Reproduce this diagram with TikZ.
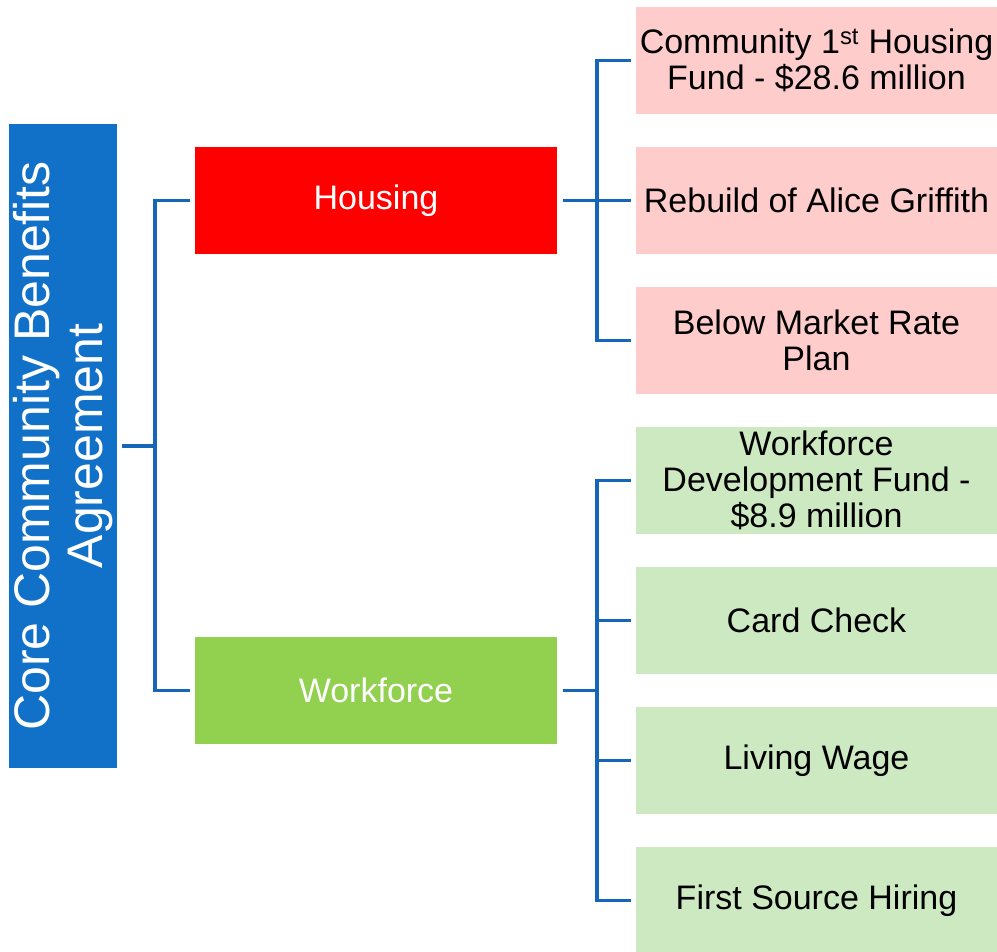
\documentclass[tikz,border=0pt]{standalone}
\usepackage{fontspec}
\setmainfont{Liberation Sans}
\definecolor{rootblue}{HTML}{1170C8}
\definecolor{linkblue}{HTML}{1565B8}
\definecolor{hred}{HTML}{FF0000}
\definecolor{wgreen}{HTML}{92D050}
\definecolor{lpink}{HTML}{FFCCCC}
\definecolor{lgreen}{HTML}{CDE9C2}
\begin{document}
\begin{tikzpicture}[x=1pt,y=-1pt,
  box/.style={rectangle,inner sep=0pt,outer sep=0pt,align=center,
    font=\fontsize{34}{36}\selectfont},
  midbox/.style={box,minimum width=362pt,minimum height=107pt,text=white},
  leafbox/.style={box,minimum width=361pt,minimum height=107pt,text=black},
  conn/.style={draw=linkblue,line width=3.5pt}]
\useasboundingbox (0,0) rectangle (997,952);
\node[rectangle,inner sep=0pt,fill=rootblue,minimum width=644pt,minimum height=108pt,
  rotate=90,text=white,align=center,font=\fontsize{50}{53}\selectfont]
  (root) at (63,446) {Core Community Benefits\\Agreement};
\node[midbox,fill=hred] (housing) at (376,200.5) {Housing};
\node[midbox,fill=wgreen] (workforce) at (376,690.5) {Workforce};
\node[leafbox,fill=lpink] (h1) at (816.5,60.5) {Community 1\textsuperscript{st} Housing\\Fund - \$28.6 million};
\node[leafbox,fill=lpink] (h2) at (816.5,200.5) {Rebuild of Alice Griffith};
\node[leafbox,fill=lpink] (h3) at (816.5,340.5) {Below Market Rate\\Plan};
\node[leafbox,fill=lgreen] (w1) at (816.5,480.5) {Workforce\\Development Fund -\\\$8.9 million};
\node[leafbox,fill=lgreen] (w2) at (816.5,620.5) {Card Check};
\node[leafbox,fill=lgreen] (w3) at (816.5,760.5) {Living Wage};
\node[leafbox,fill=lgreen] (w4) at (816.5,900.5) {First Source Hiring};
\coordinate (j0) at (155,446);
\coordinate (jh) at (597,200.5);
\coordinate (jw) at (597,690.5);
% root to level 1
\draw[conn] ([xshift=5pt]root.south) -- (j0);
\draw[conn] ([xshift=-5pt]housing.west) -| (j0) |- ([xshift=-5pt]workforce.west);
% housing to leaves
\draw[conn] ([xshift=6pt]housing.east) -- (jh);
\draw[conn] ([xshift=-5pt]h1.west) -| (jh) |- ([xshift=-5pt]h3.west);
\draw[conn] (jh) -- ([xshift=-5pt]h2.west);
% workforce to leaves
\draw[conn] ([xshift=6pt]workforce.east) -- (jw);
\draw[conn] ([xshift=-5pt]w1.west) -| (jw) |- ([xshift=-5pt]w4.west);
\draw[conn] (jw |- w2) -- ([xshift=-5pt]w2.west);
\draw[conn] (jw |- w3) -- ([xshift=-5pt]w3.west);
\end{tikzpicture}
\end{document}
